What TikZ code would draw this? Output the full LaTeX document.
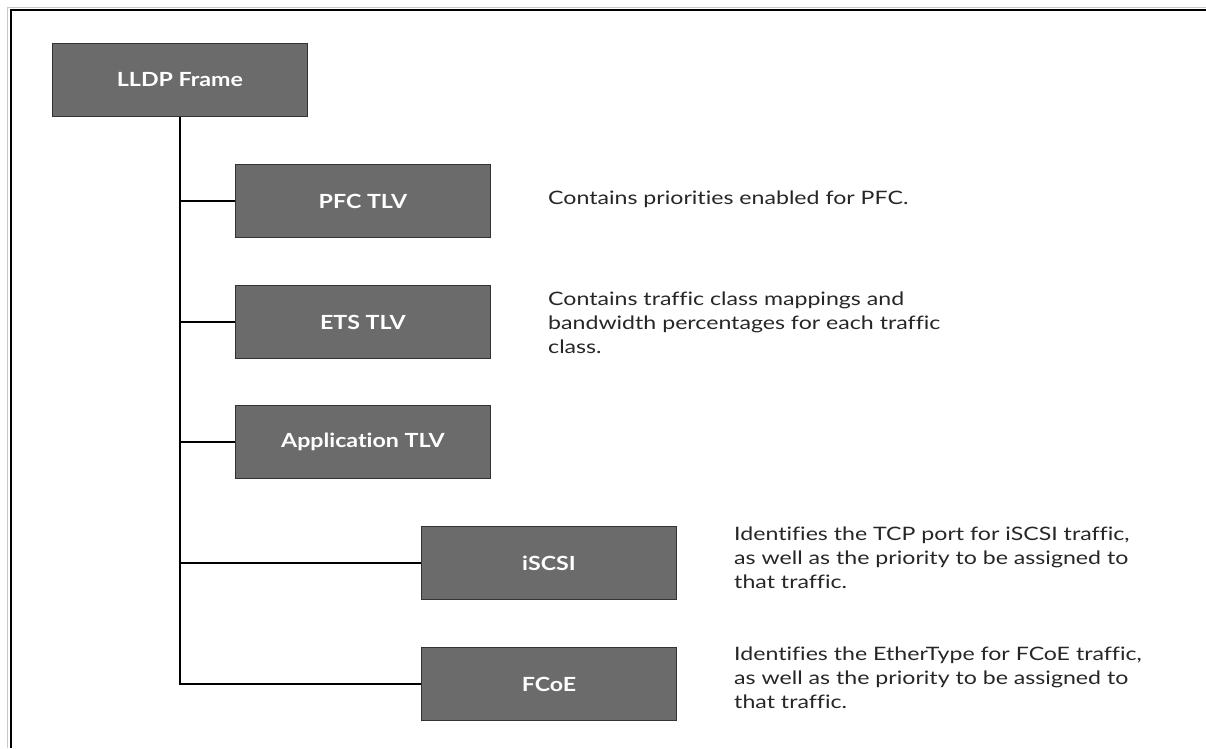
\documentclass[tikz,border=0pt]{standalone}
\usepackage{fontspec}
\setmainfont{Lato}
\newfontfamily\descfont{Lato}[FakeStretch=1.25, RawFeature={-liga;-clig;-dlig;-calt}]
\newfontfamily\labelfont{Lato}[FakeStretch=1.19, RawFeature={-liga;-clig;-dlig;-calt}]
\definecolor{boxfill}{HTML}{6B6B6B}
\definecolor{boxline}{HTML}{333333}
\definecolor{rimgray}{HTML}{C8C8C8}
\definecolor{desctext}{HTML}{262626}
\newcommand{\nolig}{\kern0pt}
\begin{document}
\begin{tikzpicture}[x=1pt,y=-1pt,
  box/.style={draw=boxline, fill=boxfill, line width=0.9pt, minimum width=255pt,
    minimum height=73pt, inner sep=0pt, anchor=north west, text=white,
    font=\labelfont\fontsize{19.5}{22}\selectfont\bfseries},
  desc/.style={anchor=north west, inner sep=0pt, align=left, text=desctext,
    font=\descfont\fontsize{18.5}{23.7}\selectfont},
  conn/.style={line width=1.6pt, black}]
\useasboundingbox (0,0) rectangle (1206,748);
% frame
\draw[rimgray, line width=1pt] (7.5,748) -- (7.5,7.5) -- (1206,7.5);
\draw[line width=2.6pt] (11,748) -- (11,10) -- (1206,10);
% boxes
\node[box] (lldp) at (52,43) {LLDP Frame};
\node[box] (pfc) at (235,164) {PFC TLV};
\node[box] (ets) at (235,285) {ETS TLV};
\node[box] (app) at (235,405) {Applicat\nolig ion TLV};
\node[box] (iscsi) at (421,526) {iSCSI};
\node[box] (fcoe) at (421,647) {FCoE};
% connectors
\draw[conn] (lldp.south) |- (fcoe.west);
\draw[conn] (lldp.south |- pfc.west) -- (pfc.west);
\draw[conn] (lldp.south |- ets.west) -- (ets.west);
\draw[conn] (lldp.south |- app.west) -- (app.west);
\draw[conn] (lldp.south |- iscsi.west) -- (iscsi.west);
% descriptions
\node[desc] (dpfc) at (548,191) {Contains priorit\nolig ies enabled for PFC.};
\node[desc] (dets) at (548,292) {Contains traffic class mappings and\\bandwidth percentages for each traffic\\class.};
\node[desc] (discsi) at (734,527) {Identifies the TCP port for iSCSI traffic,\\as well as the priority to be assigned to\\that traffic.};
\node[desc] (dfcoe) at (734,647) {Identifies the EtherType for FCoE traffic,\\as well as the priority to be assigned to\\that traffic.};
\end{tikzpicture}
\end{document}
